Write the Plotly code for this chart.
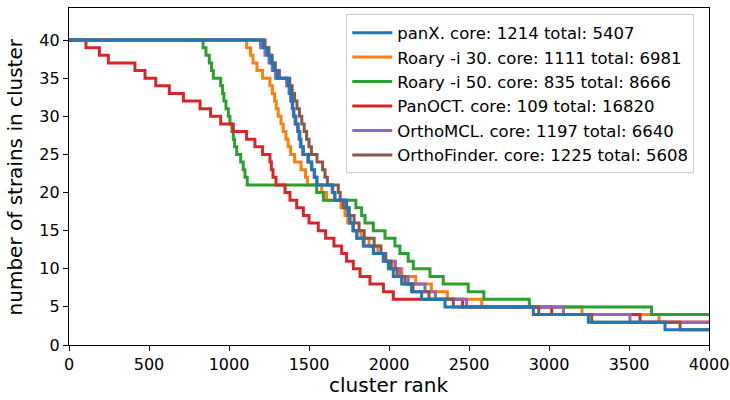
import plotly.graph_objects as go

# ---- data: rank positions where each curve steps, and the strain count after the step ----
panx_rank = [0, 1214, 1240, 1262, 1280, 1300, 1370, 1381, 1391, 1398, 1406, 1418, 1433, 1443, 1450, 1465,
             1497, 1518, 1535, 1550, 1648, 1662, 1735, 1746, 1756, 1777, 1798, 1839, 1902, 1964, 1996,
             2027, 2079, 2141, 2204, 2350, 2902, 3246, 3725, 4000]
panx_strains = [40, 39, 38, 37, 36, 35, 34, 33, 32, 31, 30, 29, 28, 27, 26, 25,
                24, 23, 22, 21, 20, 19, 18, 17, 16, 15, 14, 13, 12, 11, 10,
                9, 8, 7, 6, 5, 4, 3, 2, 2]

roary30_rank = [0, 1110, 1135, 1150, 1175, 1210, 1256, 1271, 1285, 1295, 1308, 1325, 1339, 1356, 1370, 1385,
                1410, 1450, 1478, 1490, 1579, 1610, 1700, 1725, 1742, 1775, 1825, 1875, 1930, 1975, 2020,
                2080, 2167, 2265, 2365, 2579, 3206, 3688, 4000]
roary30_strains = [40, 39, 38, 37, 36, 35, 34, 33, 32, 31, 30, 29, 28, 27, 26, 25,
                   24, 23, 22, 21, 20, 19, 18, 17, 16, 15, 14, 13, 12, 11, 10,
                   9, 8, 7, 6, 5, 4, 3, 3]

roary50_rank = [0, 838, 856, 877, 891, 902, 948, 960, 968, 981, 996, 1006, 1018, 1027, 1035, 1048,
                1073, 1089, 1100, 1114, 1548, 1590, 1793, 1829, 1850, 1902, 1975, 2037, 2068, 2120, 2152,
                2256, 2339, 2495, 2593, 2877, 3641, 4000]
roary50_strains = [40, 39, 38, 37, 36, 35, 34, 33, 32, 31, 30, 29, 28, 27, 26, 25,
                   24, 23, 22, 21, 20, 19, 18, 17, 16, 15, 14, 13, 12, 11, 10,
                   9, 8, 7, 6, 5, 4, 4]

panoct_rank = [0, 106, 190, 246, 412, 475, 542, 627, 715, 819, 885, 948, 1027, 1110, 1162, 1210,
               1256, 1265, 1275, 1294, 1350, 1381, 1423, 1465, 1500, 1558, 1604, 1656, 1704, 1735, 1777,
               1819, 1881, 1965, 2027, 2460, 3017, 3569, 4000]
panoct_strains = [40, 39, 38, 37, 36, 35, 34, 33, 32, 31, 30, 29, 28, 27, 26, 25,
                  24, 23, 22, 21, 20, 19, 18, 17, 16, 15, 14, 13, 12, 11, 10,
                  9, 8, 7, 6, 5, 4, 3, 3]

orthomcl_rank = [0, 1197, 1225, 1250, 1270, 1290, 1360, 1375, 1385, 1395, 1403, 1413, 1428, 1438, 1446, 1460,
                 1492, 1515, 1532, 1548, 1645, 1660, 1730, 1742, 1755, 1775, 1800, 1845, 1905, 1975, 2040,
                 2068, 2120, 2225, 2290, 2485, 3090, 3506, 4000]
orthomcl_strains = [40, 39, 38, 37, 36, 35, 34, 33, 32, 31, 30, 29, 28, 27, 26, 25,
                    24, 23, 22, 21, 20, 19, 18, 17, 16, 15, 14, 13, 12, 11, 10,
                    9, 8, 7, 6, 5, 4, 3, 3]

orthofinder_rank = [0, 1225, 1250, 1270, 1290, 1315, 1380, 1395, 1410, 1425, 1440, 1455, 1470, 1485, 1500, 1515,
                    1550, 1585, 1600, 1615, 1683, 1695, 1714, 1752, 1782, 1813, 1845, 1907, 1950, 1980, 2011,
                    2050, 2100, 2150, 2250, 2402, 2936, 3267, 3819, 4000]
orthofinder_strains = [40, 39, 38, 37, 36, 35, 34, 33, 32, 31, 30, 29, 28, 27, 26, 25,
                       24, 23, 22, 21, 20, 19, 18, 17, 16, 15, 14, 13, 12, 11, 10,
                       9, 8, 7, 6, 5, 4, 3, 2, 2]

labels = ["panX. core: 1214 total: 5407",
          "Roary -i 30. core: 1111 total: 6981",
          "Roary -i 50. core: 835 total: 8666",
          "PanOCT. core: 109 total: 16820",
          "OrthoMCL. core: 1197 total: 6640",
          "OrthoFinder. core: 1225 total: 5608"]
colors = ["#1f77b4", "#ff7f0e", "#2ca02c", "#d62728", "#9467bd", "#8c564b"]
series = [(panx_rank, panx_strains), (roary30_rank, roary30_strains), (roary50_rank, roary50_strains),
          (panoct_rank, panoct_strains), (orthomcl_rank, orthomcl_strains),
          (orthofinder_rank, orthofinder_strains)]

x_title = "cluster rank"
y_title = "number of strains in cluster"

# drawing order: panX on top
draw_order = [1, 2, 3, 4, 5, 0]

fig = go.Figure()
for i in draw_order:
    xs, ys = series[i]
    fig.add_trace(go.Scatter(
        x=xs, y=ys, mode="lines", name=labels[i],
        line=dict(color=colors[i], width=3, shape="hv"),
        legendrank=i + 1,
    ))

font_family = "DejaVu Sans"
fig.update_layout(
    width=730, height=400,
    margin=dict(l=69, r=21, t=8, b=55),
    plot_bgcolor="white", paper_bgcolor="white",
    font=dict(family=font_family, size=16, color="black"),
    showlegend=True,
    legend=dict(
        x=0.977, y=0.981, xanchor="right", yanchor="top",
        bgcolor="rgba(255,255,255,0.8)", bordercolor="#cccccc", borderwidth=1,
        font=dict(family=font_family, size=16.5, color="black"),
        traceorder="normal", itemwidth=40,
    ),
    annotations=[
        dict(text=x_title, xref="paper", yref="paper", x=0.5, y=-0.119,
             xanchor="center", yanchor="middle", showarrow=False,
             font=dict(family=font_family, size=20, color="black")),
        dict(text=y_title, xref="paper", yref="paper", x=-0.0845, y=0.5,
             xanchor="center", yanchor="middle", showarrow=False, textangle=-90,
             font=dict(family=font_family, size=20, color="black")),
    ],
)
fig.update_xaxes(
    range=[0, 4000], tickvals=[0, 500, 1000, 1500, 2000, 2500, 3000, 3500, 4000],
    showline=True, linecolor="black", linewidth=1.2, mirror=True,
    ticks="outside", ticklen=5, tickwidth=1.2, tickcolor="black",
    showgrid=False, zeroline=False, automargin=False,
    tickfont=dict(size=16),
)
fig.update_yaxes(
    range=[0, 44.2], tickvals=[0, 5, 10, 15, 20, 25, 30, 35, 40],
    showline=True, linecolor="black", linewidth=1.2, mirror=True,
    ticks="outside", ticklen=5, tickwidth=1.2, tickcolor="black",
    showgrid=False, zeroline=False, automargin=False,
    tickfont=dict(size=16),
)

fig.write_html("out.html")
